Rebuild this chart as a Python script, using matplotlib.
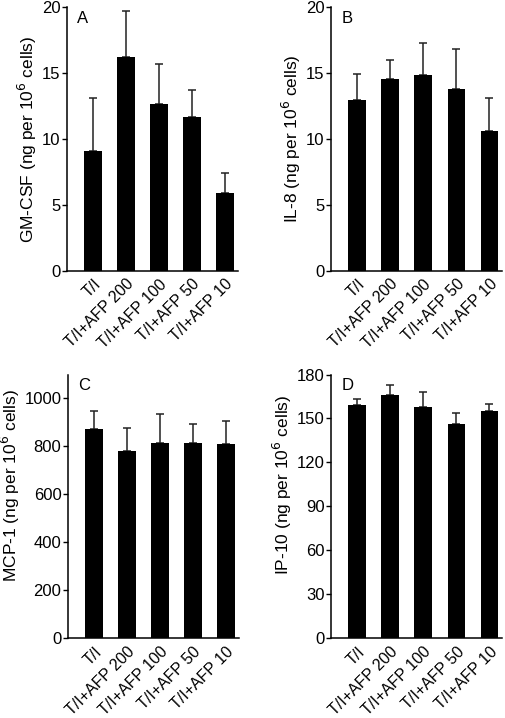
import matplotlib
matplotlib.use("Agg")
import matplotlib.pyplot as plt

plt.rcParams['font.family'] = ['Liberation Sans', 'DejaVu Sans']

groups = ["T/I", "T/I+AFP 200", "T/I+AFP 100", "T/I+AFP 50", "T/I+AFP 10"]

# means and upper error (top of error bar)
gmcsf = [9.1, 16.25, 12.7, 11.7, 5.95]
gmcsf_top = [13.1, 19.7, 15.7, 13.7, 7.4]

il8 = [12.95, 14.55, 14.85, 13.8, 10.6]
il8_top = [14.95, 16.0, 17.3, 16.8, 13.1]

mcp1 = [872, 781, 816, 816, 809]
mcp1_top = [949, 878, 934, 895, 907]

ip10 = [159, 166, 158, 146, 155]
ip10_top = [163.6, 172.8, 168, 153.8, 160]

panels = [
    ("A", gmcsf, gmcsf_top, "GM-CSF (ng per 10$^6$ cells)", 20, [0, 5, 10, 15, 20]),
    ("B", il8, il8_top, "IL-8 (ng per 10$^6$ cells)", 20, [0, 5, 10, 15, 20]),
    ("C", mcp1, mcp1_top, "MCP-1 (ng per 10$^6$ cells)", 1100, [0, 200, 400, 600, 800, 1000]),
    ("D", ip10, ip10_top, "IP-10 (ng per 10$^6$ cells)", 180, [0, 30, 60, 90, 120, 150, 180]),
]

fig = plt.figure(figsize=(5.05, 7.18), dpi=100)
boxes = [
    [0.132, 0.6226, 0.3386, 0.3673],
    [0.6554, 0.6226, 0.3386, 0.3673],
    [0.134, 0.111, 0.3386, 0.3674],
    [0.6554, 0.111, 0.3386, 0.3674],
]
label_y = [0.5, 0.5, 0.58, 0.58]

for box, ly, (letter, vals, tops, ylab, ymax, ticks) in zip(boxes, label_y, panels):
    ax = fig.add_axes(box)
    x = list(range(len(groups)))
    errs = [t - v for t, v in zip(tops, vals)]
    ax.bar(x, vals, width=0.54, color="black", zorder=2)
    ax.errorbar(x, vals, yerr=[[0] * len(vals), errs], fmt="none",
                ecolor="#222222", elinewidth=1.1, capsize=3.2, capthick=1.1, zorder=1)
    ax.set_xlim(-0.8, 4.38)
    ax.set_ylim(0, ymax)
    ax.set_yticks(ticks)
    ax.set_xticks(x)
    ax.set_xticklabels(groups, rotation=45, ha="right", rotation_mode="anchor", fontsize=11.5)
    ax.tick_params(axis="x", length=0, pad=4)
    ax.tick_params(axis="y", length=3.5, width=1, labelsize=12, pad=1)
    ax.set_ylabel(ylab, fontsize=12.5, labelpad=2)
    ax.yaxis.label.set_y(ly)
    for s in ["top", "right"]:
        ax.spines[s].set_visible(False)
    for s in ["left", "bottom"]:
        ax.spines[s].set_linewidth(1.1)
    ax.text(0.06, 0.985, letter, transform=ax.transAxes, fontsize=12, va="top", ha="left")

fig.savefig("out.png", dpi=100)
